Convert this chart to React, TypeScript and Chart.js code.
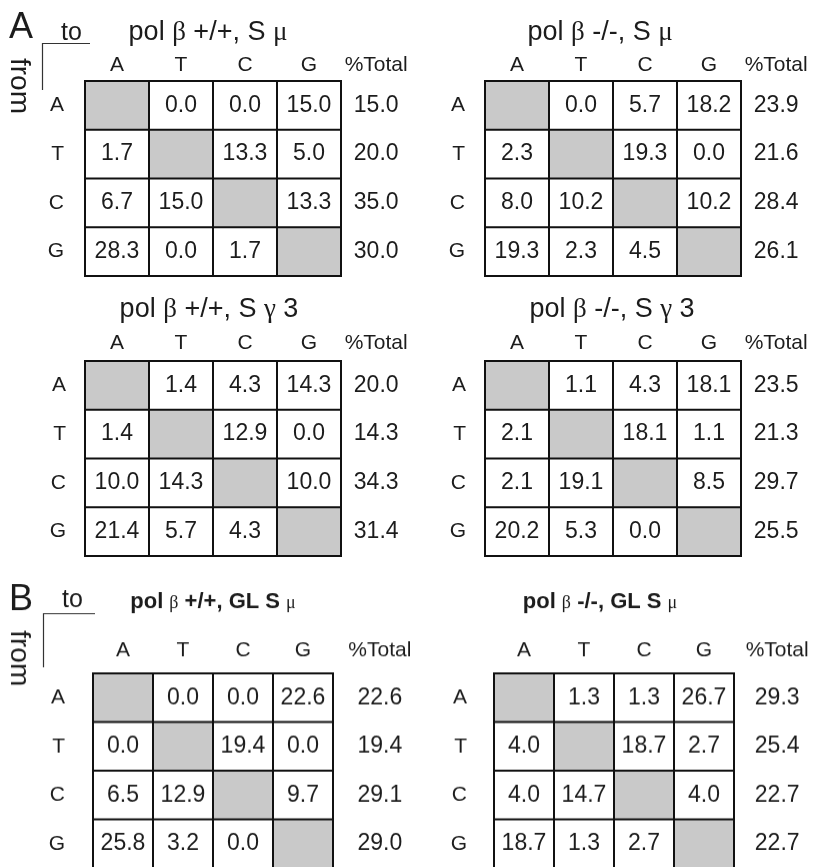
import React, { useEffect, useRef } from 'react';
import { Chart, registerables } from 'chart.js';

Chart.register(...registerables);

// ---------- data ----------
const fromBases = ['A', 'T', 'C', 'G'];
const toBases = ['A', 'T', 'C', 'G'];
const totalLabel = '%Total';

const smuWT: (number | null)[][] = [
  [null, 0.0, 0.0, 15.0],
  [1.7, null, 13.3, 5.0],
  [6.7, 15.0, null, 13.3],
  [28.3, 0.0, 1.7, null],
];
const smuWTTotal = [15.0, 20.0, 35.0, 30.0];

const smuKO: (number | null)[][] = [
  [null, 0.0, 5.7, 18.2],
  [2.3, null, 19.3, 0.0],
  [8.0, 10.2, null, 10.2],
  [19.3, 2.3, 4.5, null],
];
const smuKOTotal = [23.9, 21.6, 28.4, 26.1];

const sg3WT: (number | null)[][] = [
  [null, 1.4, 4.3, 14.3],
  [1.4, null, 12.9, 0.0],
  [10.0, 14.3, null, 10.0],
  [21.4, 5.7, 4.3, null],
];
const sg3WTTotal = [20.0, 14.3, 34.3, 31.4];

const sg3KO: (number | null)[][] = [
  [null, 1.1, 4.3, 18.1],
  [2.1, null, 18.1, 1.1],
  [2.1, 19.1, null, 8.5],
  [20.2, 5.3, 0.0, null],
];
const sg3KOTotal = [23.5, 21.3, 29.7, 25.5];

const glWT: (number | null)[][] = [
  [null, 0.0, 0.0, 22.6],
  [0.0, null, 19.4, 0.0],
  [6.5, 12.9, null, 9.7],
  [25.8, 3.2, 0.0, null],
];
const glWTTotal = [22.6, 19.4, 29.1, 29.0];

const glKO: (number | null)[][] = [
  [null, 1.3, 1.3, 26.7],
  [4.0, null, 18.7, 2.7],
  [4.0, 14.7, null, 4.0],
  [18.7, 1.3, 2.7, null],
];
const glKOTotal = [29.3, 25.4, 22.7, 22.7];

type Seg = [string, 's' | 'g'];
const titleSmuWT: Seg[] = [['pol ', 's'], ['β', 'g'], [' +/+, S ', 's'], ['μ', 'g']];
const titleSmuKO: Seg[] = [['pol ', 's'], ['β', 'g'], [' -/-, S ', 's'], ['μ', 'g']];
const titleSg3WT: Seg[] = [['pol ', 's'], ['β', 'g'], [' +/+, S ', 's'], ['γ', 'g'], [' 3', 's']];
const titleSg3KO: Seg[] = [['pol ', 's'], ['β', 'g'], [' -/-, S ', 's'], ['γ', 'g'], [' 3', 's']];
const titleGlWT: Seg[] = [['pol ', 's'], ['β', 'g'], [' +/+, GL S ', 's'], ['μ', 'g']];
const titleGlKO: Seg[] = [['pol ', 's'], ['β', 'g'], [' -/-, GL S ', 's'], ['μ', 'g']];

// ---------- style / layout ----------
const SANS = '"Liberation Sans", Arial, Helvetica, sans-serif';
const SERIF = '"Liberation Serif", "Times New Roman", serif';
const TEXT = '#1c1c1c';
const LINE = '#111111';
const GRAY = '#c9c9c9';
const WHITE = '#ffffff';
const CELL_FONT = 23;
const HEAD_FONT = 21;
const PAD_B = 4;
const CW = 417;

interface Corner {
  letter: string;
  letterX: number;
  letterY: number;
  toX: number;
  toY: number;
  lineX0: number;
  lineX1: number;
  lineY: number;
  lineY1: number;
  fromX: number;
  fromY: number;
}

interface PanelCfg {
  left: number;
  top: number;
  gridLeft: number;
  gridTop: number;
  cellW: number;
  cellH: number;
  rowPad: number;
  headPad: number;
  totalPos: number;
  values: (number | null)[][];
  totals: number[];
  title: Seg[];
  titleX: number;
  titleY: number;
  bold: boolean;
  corner?: Corner;
}

const panels: PanelCfg[] = [
  {
    left: 0, top: 0, gridLeft: 85, gridTop: 81, cellW: 64, cellH: 48.75, rowPad: 21, headPad: 3,
    totalPos: 4.55, values: smuWT, totals: smuWTTotal, title: titleSmuWT, titleX: 208, titleY: 40, bold: false,
    corner: { letter: 'A', letterX: 9, letterY: 38, toX: 61, toY: 40, lineX0: 42, lineX1: 90, lineY: 43, lineY1: 90, fromX: 11, fromY: 58 },
  },
  {
    left: 400, top: 0, gridLeft: 85, gridTop: 81, cellW: 64, cellH: 48.75, rowPad: 20, headPad: 3,
    totalPos: 4.55, values: smuKO, totals: smuKOTotal, title: titleSmuKO, titleX: 200, titleY: 40, bold: false,
  },
  {
    left: 0, top: 285, gridLeft: 85, gridTop: 76, cellW: 64, cellH: 48.75, rowPad: 19, headPad: 5,
    totalPos: 4.55, values: sg3WT, totals: sg3WTTotal, title: titleSg3WT, titleX: 209, titleY: 32, bold: false,
  },
  {
    left: 400, top: 285, gridLeft: 85, gridTop: 76, cellW: 64, cellH: 48.75, rowPad: 19, headPad: 5,
    totalPos: 4.55, values: sg3KO, totals: sg3KOTotal, title: titleSg3KO, titleX: 212, titleY: 32, bold: false,
  },
  {
    left: 0, top: 575, gridLeft: 93, gridTop: 98, cellW: 60, cellH: 48.7, rowPad: 28, headPad: 10,
    totalPos: 4.78, values: glWT, totals: glWTTotal, title: titleGlWT, titleX: 213, titleY: 33, bold: true,
    corner: { letter: 'B', letterX: 9, letterY: 35, toX: 62, toY: 32, lineX0: 43, lineX1: 95, lineY: 38, lineY1: 92, fromX: 11, fromY: 55 },
  },
  {
    left: 400, top: 575, gridLeft: 94, gridTop: 98, cellW: 60, cellH: 48.7, rowPad: 27, headPad: 10,
    totalPos: 4.72, values: glKO, totals: glKOTotal, title: titleGlKO, titleX: 200, titleY: 33, bold: true,
  },
];

function drawTitle(ctx: CanvasRenderingContext2D, cfg: PanelCfg) {
  const sansFont = cfg.bold ? `bold 22px ${SANS}` : `27px ${SANS}`;
  const greekFont = cfg.bold ? `18px ${SERIF}` : `27px ${SERIF}`;
  const widths = cfg.title.map(([t, k]) => {
    ctx.font = k === 's' ? sansFont : greekFont;
    return ctx.measureText(t).width;
  });
  const total = widths.reduce((a, b) => a + b, 0);
  let x = cfg.titleX - total / 2;
  ctx.textAlign = 'left';
  ctx.textBaseline = 'alphabetic';
  cfg.title.forEach(([t, k], i) => {
    ctx.font = k === 's' ? sansFont : greekFont;
    ctx.fillText(t, x, cfg.titleY);
    x += widths[i];
  });
}

function makePlugin(cfg: PanelCfg) {
  return {
    id: 'mutationTable',
    afterDatasetsDraw(chart: any) {
      const ctx: CanvasRenderingContext2D = chart.ctx;
      const xs = chart.scales.x;
      const ys = chart.scales.y;
      ctx.save();
      ctx.fillStyle = TEXT;
      // cell values and totals
      ctx.font = `${CELL_FONT}px ${SANS}`;
      ctx.textAlign = 'center';
      ctx.textBaseline = 'middle';
      cfg.values.forEach((row, r) => {
        const meta = chart.getDatasetMeta(r);
        row.forEach((v, c) => {
          if (v === null) return;
          const bar = meta.data[c];
          ctx.fillText(v.toFixed(1), bar.x, (bar.y + bar.base) / 2);
        });
        ctx.fillText(
          cfg.totals[r].toFixed(1),
          xs.getPixelForValue(cfg.totalPos),
          ys.getPixelForValue(r + 0.5)
        );
      });
      // grid lines
      ctx.strokeStyle = LINE;
      ctx.lineWidth = 2;
      ctx.lineCap = 'square';
      ctx.beginPath();
      for (let i = 0; i <= toBases.length; i++) {
        const x = xs.getPixelForValue(i);
        ctx.moveTo(x, ys.getPixelForValue(0));
        ctx.lineTo(x, ys.getPixelForValue(fromBases.length));
      }
      for (let i = 0; i <= fromBases.length; i++) {
        const y = ys.getPixelForValue(i);
        ctx.moveTo(xs.getPixelForValue(0), y);
        ctx.lineTo(xs.getPixelForValue(toBases.length), y);
      }
      ctx.stroke();
      // title
      drawTitle(ctx, cfg);
      // corner decorations
      const cr = cfg.corner;
      if (cr) {
        ctx.textAlign = 'left';
        ctx.textBaseline = 'alphabetic';
        ctx.font = `36px ${SANS}`;
        ctx.fillText(cr.letter, cr.letterX, cr.letterY);
        ctx.font = `25px ${SANS}`;
        ctx.fillText('to', cr.toX, cr.toY);
        ctx.strokeStyle = '#333';
        ctx.lineWidth = 1.2;
        ctx.lineCap = 'butt';
        ctx.beginPath();
        ctx.moveTo(cr.lineX1, cr.lineY + 0.5);
        ctx.lineTo(cr.lineX0 + 0.5, cr.lineY + 0.5);
        ctx.lineTo(cr.lineX0 + 0.5, cr.lineY1);
        ctx.stroke();
        ctx.save();
        ctx.translate(cr.fromX, cr.fromY);
        ctx.rotate(Math.PI / 2);
        ctx.font = `28px ${SANS}`;
        ctx.fillText('from', 0, 0);
        ctx.restore();
      }
      ctx.restore();
    },
  };
}

function zeroPadding(s: any) {
  s.paddingTop = 0;
  s.paddingBottom = 0;
  s.paddingLeft = 0;
  s.paddingRight = 0;
}

function Panel({ cfg }: { cfg: PanelCfg }) {
  const ref = useRef<HTMLCanvasElement | null>(null);
  const H = cfg.gridTop + fromBases.length * cfg.cellH + PAD_B;
  const xMax = (CW - cfg.gridLeft) / cfg.cellW;
  const colTicks = [...toBases.map((_, i) => i + 0.5), cfg.totalPos];
  const colLabels = [...toBases, totalLabel];

  useEffect(() => {
    if (!ref.current) return;
    const datasets = fromBases.map((fb, r) => ({
      label: fb,
      data: toBases.map((_, c) => ({ x: c + 0.5, y: [r, r + 1] })),
      backgroundColor: toBases.map((_, c) => (c === r ? GRAY : WHITE)),
      borderWidth: 0,
      grouped: false,
      categoryPercentage: 1,
      barPercentage: 1,
    }));
    const chart = new Chart(ref.current, {
      type: 'bar',
      data: { datasets } as any,
      options: {
        responsive: false,
        maintainAspectRatio: false,
        animation: false,
        devicePixelRatio: 1,
        events: [],
        layout: { padding: { top: 0, left: 0, right: 0, bottom: PAD_B } },
        plugins: {
          legend: { display: false },
          tooltip: { enabled: false },
          title: { display: false },
        },
        scales: {
          x: {
            type: 'linear',
            position: 'top',
            min: 0,
            max: xMax,
            offset: false,
            grid: { display: false, drawTicks: false },
            border: { display: false },
            ticks: {
              autoSkip: false,
              maxRotation: 0,
              minRotation: 0,
              padding: cfg.headPad,
              color: TEXT,
              font: { family: SANS, size: HEAD_FONT },
              callback: (_v: any, i: number) => colLabels[i],
            },
            afterBuildTicks: (s: any) => {
              s.ticks = colTicks.map((value) => ({ value }));
            },
            afterFit: (s: any) => {
              s.height = cfg.gridTop;
              zeroPadding(s);
            },
          },
          y: {
            type: 'linear',
            reverse: true,
            min: 0,
            max: fromBases.length,
            grid: { display: false, drawTicks: false },
            border: { display: false },
            ticks: {
              autoSkip: false,
              padding: cfg.rowPad,
              color: TEXT,
              font: { family: SANS, size: HEAD_FONT },
              callback: (_v: any, i: number) => fromBases[i],
            },
            afterBuildTicks: (s: any) => {
              s.ticks = fromBases.map((_, i) => ({ value: i + 0.5 }));
            },
            afterFit: (s: any) => {
              s.width = cfg.gridLeft;
              zeroPadding(s);
            },
          },
        },
      } as any,
      plugins: [makePlugin(cfg)],
    });
    return () => chart.destroy();
  }, []);

  return (
    <div style={{ position: 'absolute', left: cfg.left, top: cfg.top, width: CW, height: H }}>
      <canvas ref={ref} width={CW} height={H} style={{ display: 'block', width: CW, height: H }} />
    </div>
  );
}

export default function App() {
  return (
    <div
      style={{
        position: 'absolute',
        left: 0,
        top: 0,
        width: 817,
        height: 867,
        overflow: 'hidden',
        background: '#ffffff',
      }}
    >
      {panels.map((p, i) => (
        <Panel key={i} cfg={p} />
      ))}
    </div>
  );
}
